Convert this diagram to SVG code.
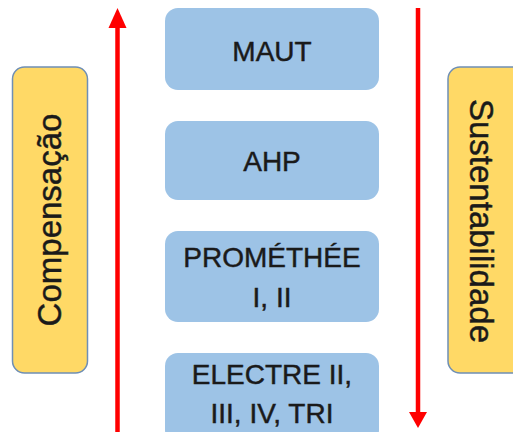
<svg xmlns="http://www.w3.org/2000/svg" width="513" height="432" viewBox="0 0 513 432">
  <defs>
    <style>
      .method { fill: #9DC3E6; }
      .axis { fill: #FFD966; stroke: #6F8FB5; stroke-width: 1.5; }
      .label { font-family: "Liberation Sans", Arial, sans-serif; fill: #1A1A1A; stroke: #1A1A1A; stroke-width: 0.45; text-anchor: middle; }
      .m { font-size: 28px; }
      .side { font-size: 33px; }
      .shaft { stroke: #FF0000; stroke-width: 4.5; fill: none; }
      .head { fill: #FF0000; }
    </style>
  </defs>

  <rect width="513" height="432" fill="#FFFFFF"/>

  <!-- side labels -->
  <g id="compensacao">
    <rect class="axis" x="12.5" y="67" width="75" height="306" rx="12"/>
    <text class="label side" font-size="32.5" transform="translate(61 220) rotate(-90)">Compensação</text>
  </g>
  <g id="sustentabilidade">
    <rect class="axis" x="448" y="67" width="80" height="306" rx="12"/>
    <text class="label side" font-size="34.5" transform="translate(470 221) rotate(90)">Sustentabilidade</text>
  </g>

  <!-- methods -->
  <g id="maut">
    <rect class="method" x="165" y="8" width="214" height="82" rx="13"/>
    <text class="label m" font-size="29.5" x="272" y="61">MAUT</text>
  </g>
  <g id="ahp">
    <rect class="method" x="165" y="121" width="214" height="79" rx="13"/>
    <text class="label m" font-size="29" x="272" y="171">AHP</text>
  </g>
  <g id="promethee">
    <rect class="method" x="165" y="231" width="214" height="91" rx="13"/>
    <text class="label m" x="272" y="267">PROMÉTHÉE</text>
    <text class="label m" x="272" y="307">I, II</text>
  </g>
  <g id="electre">
    <rect class="method" x="165" y="353" width="214" height="90" rx="13"/>
    <text class="label m" x="272" y="384">ELECTRE II,</text>
    <text class="label m" x="272" y="423">III, IV, TRI</text>
  </g>

  <!-- direction arrows -->
  <g id="connectors">
    <line class="shaft" x1="117.5" y1="432" x2="117.5" y2="26"/>
    <polygon class="head" points="117.5,8 126.5,28 108.5,28"/>
    <line class="shaft" x1="418" y1="8" x2="418" y2="414"/>
    <polygon class="head" points="418,428 427,412 409,412"/>
  </g>
</svg>
